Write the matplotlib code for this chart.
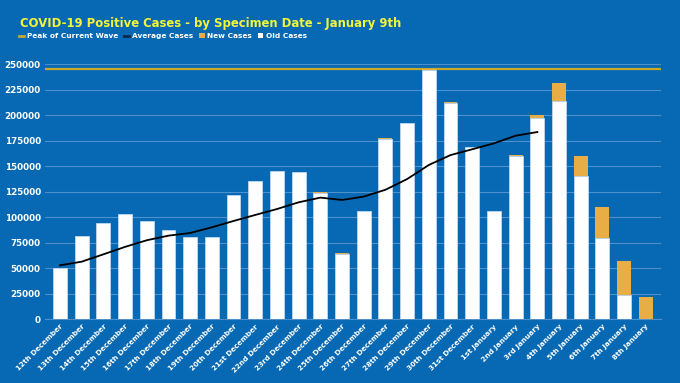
import numpy as np
import matplotlib.pyplot as plt
from matplotlib.lines import Line2D
from matplotlib.patches import Patch

# data
dates = ['12th December', '13th December', '14th December', '15th December',
         '16th December', '17th December', '18th December', '19th December',
         '20th December', '21st December', '22nd December', '23rd December',
         '24th December', '25th December', '26th December', '27th December',
         '28th December', '29th December', '30th December', '31st December',
         '1st January', '2nd January', '3rd January', '4th January',
         '5th January', '6th January', '7th January', '8th January']
old_cases = [50600, 81700, 94700, 103000, 96700, 87500, 81000, 81000,
             121600, 135900, 145700, 144400, 124100, 64000, 105900, 177000,
             192500, 244700, 212000, 168600, 106000, 160500, 197600, 214300,
             140200, 80000, 23800, 0]
new_cases = [0, 0, 0, 0, 0, 0, 0, 0,
             0, 0, 0, 300, 600, 600, 600, 300,
             300, 1000, 700, 400, 400, 500, 2700, 17400,
             19600, 30400, 33100, 21600]
avg_cases = [52900, 56500, 63700, 71000, 77500, 82000, 84600, 90200,
             96400, 102300, 108100, 114700, 119300, 117000, 120300, 127000,
             137500, 151300, 161000, 166700, 172500, 180000, 183600]
peak = 245700

BG = '#0769B3'
GRID = '#4F8FCB'
ORANGE = '#E8AE45'
GOLD = '#C9A72B'

plt.rcParams['font.family'] = ['DejaVu Sans']
fig = plt.figure(figsize=(6.8, 3.83), dpi=100, facecolor=BG)
ax = fig.add_axes([45 / 680, 1 - 319.3 / 383, 616 / 680, 255 / 383])
ax.set_facecolor(BG)

x = np.arange(len(dates))
ax.bar(x, old_cases, width=0.64, color='white', edgecolor='#BFD8EE',
       linewidth=0.6, zorder=3)
ax.bar(x, new_cases, width=0.64, bottom=old_cases, color=ORANGE,
       linewidth=0, zorder=3)
ax.plot(x[:len(avg_cases)], avg_cases, color='black', linewidth=1.3, zorder=4)
ax.axhline(peak, color=GOLD, linewidth=1.6, zorder=2)

ax.set_xlim(-0.69, 27.7)
ax.set_ylim(0, 250000)
ax.set_yticks(np.arange(0, 250001, 25000))
ax.set_yticklabels([str(v) for v in range(0, 250001, 25000)],
                   color='white', fontsize=6.3, fontweight='bold')
ax.set_xticks(x)
ax.set_xticklabels(dates, rotation=45, ha='right', rotation_mode='anchor',
                   color='white', fontsize=5.2, fontweight='bold')
ax.tick_params(length=0, pad=3)
ax.grid(axis='y', color=GRID, linewidth=0.8, zorder=1)
for s in ['top', 'right', 'left']:
    ax.spines[s].set_visible(False)
ax.spines['bottom'].set_color(GRID)
ax.spines['bottom'].set_zorder(2)

fig.text(20 / 680, 1 - 27 / 383, 'COVID-19 Positive Cases - by Specimen Date - January 9th',
         color='#F2F53A', fontsize=8.4, fontweight='bold', va='baseline')

handles = [Line2D([], [], color=GOLD, linewidth=2),
           Line2D([], [], color='#0A2A4A', linewidth=2),
           Patch(facecolor=ORANGE),
           Patch(facecolor='white')]
labels = ['Peak of Current Wave', 'Average Cases', 'New Cases', 'Old Cases']
leg = fig.legend(handles, labels,
                 loc='upper left', bbox_to_anchor=(19 / 680, 1 - 33 / 383),
                 ncol=4, frameon=False, fontsize=5.3, handlelength=0.7,
                 handleheight=0.6, handletextpad=0.35, columnspacing=0.85,
                 borderpad=0, borderaxespad=0)
for t in leg.get_texts():
    t.set_color('white')
    t.set_fontweight('bold')

fig.savefig('out.png', dpi=100, facecolor=BG)
